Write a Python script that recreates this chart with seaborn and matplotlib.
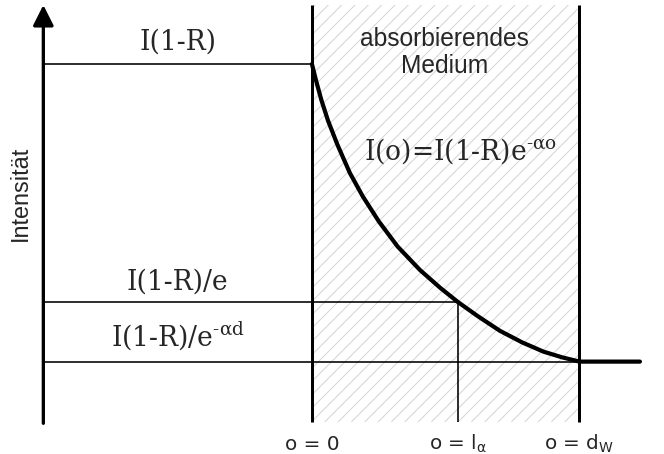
import seaborn as sns
import matplotlib.pyplot as plt

DPI = 80


def pt(px):
    # pixel size -> points at the figure dpi
    return px * 72 / DPI


# depth marks on the o axis (normalised to d_W)
x_labels = ['o = 0', r'o = l$_{\alpha}$', r'o = d$_{W}$']
x_marks = [0.0, 0.545, 1.0]

# intensity levels (normalised to I(1-R))
level_labels = ['I(1-R)', 'I(1-R)/e', r'I(1-R)/e$^{\text{-}\alpha d}$']
level_values = [1.0, 0.335, 0.168]

# decay curve inside the medium, then constant behind it
curve_x = [0.000, 0.015, 0.035, 0.060, 0.095, 0.142, 0.190, 0.250, 0.320, 0.404,
           0.480, 0.545, 0.620, 0.703, 0.785, 0.865, 0.935, 1.000, 1.226]
curve_y = [1.000, 0.955, 0.900, 0.842, 0.775, 0.695, 0.630, 0.560, 0.490, 0.424,
           0.374, 0.335, 0.295, 0.254, 0.222, 0.196, 0.180, 0.168, 0.168]

sns.set_style('white')
plt.rcParams['mathtext.default'] = 'regular'
plt.rcParams['hatch.linewidth'] = pt(1.0)

fig = plt.figure(figsize=(664 / DPI, 454 / DPI), dpi=DPI)
ax = fig.add_axes([0, 0, 1, 1])

top = 1.165
y_axis_x = -1.004

# absorbing medium
ax.fill_between([x_marks[0], x_marks[2]], 0, top, facecolor='white',
                edgecolor='#d4d4d4', hatch='//', linewidth=0, zorder=0)

# level lines and l_alpha marker
ax.hlines(level_values, y_axis_x, x_marks, color='black', lw=pt(1.6), zorder=2)
ax.vlines(x_marks[1], 0, level_values[1], color='black', lw=pt(1.6), zorder=2)
# medium boundaries
ax.vlines([x_marks[0], x_marks[2]], 0, top, color='black', lw=pt(3.0), zorder=3)

sns.lineplot(x=curve_x, y=curve_y, sort=False, estimator=None, color='black',
             lw=pt(4.2), ax=ax, zorder=4)

# axes with arrow heads
arrow = dict(arrowstyle='-|>,head_length=1.55,head_width=0.78', color='black',
             lw=pt(3.3), shrinkA=0, shrinkB=0, mutation_scale=10)
ax.annotate('', xy=(y_axis_x, top), xytext=(y_axis_x, -0.0045), arrowprops=arrow)
ax.annotate('', xy=(1.323, 0), xytext=(y_axis_x - 0.006, 0), arrowprops=arrow)

# texts
serif = dict(family='DejaVu Serif', math_fontfamily='dejavuserif', fontsize=pt(26.5),
             ha='center', va='baseline')
for lab, yb in zip(level_labels, [1.039, 0.370, 0.212]):
    ax.text(-0.502, yb, lab, **serif)
ax.text(0.557, 0.734, r'I(o)=I(1-R)e$^{\text{-}\alpha o}$', **serif)

ax.text(0.497, 1.032, 'absorbierendes\nMedium', family='Liberation Sans',
        fontsize=pt(24.5), ha='center', va='center')
ax.text(-1.088, 0.639, 'Intensität', family='Liberation Sans', fontsize=pt(23.5),
        rotation=90, ha='center', va='center')

for lab, xm in zip(x_labels, x_marks):
    ax.text(xm, -0.079, lab, family='DejaVu Sans', math_fontfamily='dejavusans',
            fontsize=pt(20), ha='center', va='baseline')

ax.set_xlim(-1.166, 1.316)
ax.set_ylim(-0.0903, 1.179)
ax.set_axis_off()

fig.savefig('out.png', dpi=DPI)
